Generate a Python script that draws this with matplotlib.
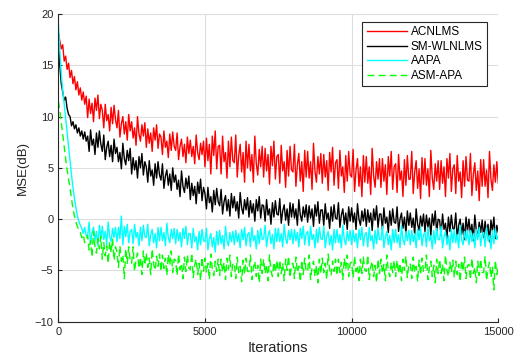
import numpy as np
import matplotlib
matplotlib.use('Agg')
import matplotlib.pyplot as plt

plt.rcParams['font.family'] = ['Liberation Sans', 'DejaVu Sans']

# iteration grid, one sample every 50 iterations
iters = np.arange(0, 15001, 50)

# MSE (dB), 10 samples (500 iterations) per row
acnlms = [
    18.2, 17.4, 16.6, 17.0, 15.4, 15.9, 14.6, 15.2, 13.8, 14.5,
    13.2, 13.9, 12.6, 13.4, 12.1, 12.8, 11.6, 12.4, 11.2, 12.0,
    9.9, 11.7, 10.3, 11.3, 9.5, 11.8, 10.6, 12.1, 9.8, 11.2,
    10.6, 8.9, 11.2, 9.6, 10.2, 8.6, 10.9, 9.3, 11.1, 9.7,
    8.9, 10.6, 8.0, 9.3, 10.0, 8.3, 9.5, 7.7, 10.2, 8.6,
    9.5, 7.9, 8.9, 7.2, 10.0, 8.3, 7.6, 9.2, 8.1, 9.4,
    7.0, 8.8, 7.4, 8.4, 6.6, 8.9, 7.7, 9.2, 6.9, 8.3,
    8.0, 6.3, 8.6, 7.0, 7.6, 6.0, 8.3, 6.7, 8.5, 7.1,
    6.7, 8.4, 5.8, 7.1, 7.8, 6.1, 7.3, 5.5, 8.0, 6.4,
    7.7, 6.1, 7.1, 5.4, 8.2, 6.5, 5.8, 7.4, 6.3, 7.6,
    5.1, 7.9, 5.7, 7.3, 4.4, 8.1, 6.2, 8.6, 4.9, 7.1,
    7.2, 4.4, 8.1, 5.6, 6.5, 4.0, 7.6, 5.1, 8.0, 5.7,
    5.5, 8.2, 4.1, 6.2, 7.3, 4.6, 6.5, 3.6, 7.6, 5.0,
    7.3, 4.7, 6.3, 3.6, 8.1, 5.4, 4.3, 6.8, 5.1, 7.1,
    4.1, 6.9, 4.7, 6.3, 3.4, 7.1, 5.2, 7.6, 3.9, 6.1,
    6.3, 3.5, 7.2, 4.7, 5.6, 3.1, 6.7, 4.2, 7.1, 4.8,
    4.6, 7.3, 3.2, 5.3, 6.4, 3.7, 5.6, 2.7, 6.7, 4.1,
    6.6, 4.0, 5.6, 2.9, 7.4, 4.7, 3.6, 6.1, 4.4, 6.4,
    3.5, 6.3, 4.1, 5.7, 2.8, 6.5, 4.6, 7.0, 3.3, 5.5,
    5.8, 3.0, 6.7, 4.2, 5.1, 2.6, 6.2, 3.7, 6.6, 4.3,
    4.1, 6.8, 2.7, 4.8, 5.9, 3.2, 5.1, 2.2, 6.2, 3.6,
    6.1, 3.5, 5.1, 2.4, 6.9, 4.2, 3.1, 5.6, 3.9, 5.9,
    3.1, 5.9, 3.7, 5.3, 2.4, 6.1, 4.2, 6.6, 2.9, 5.1,
    5.4, 2.6, 6.3, 3.8, 4.7, 2.2, 5.8, 3.3, 6.2, 3.9,
    3.9, 6.6, 2.5, 4.6, 5.7, 3.0, 4.9, 2.0, 6.0, 3.4,
    5.9, 3.3, 4.9, 2.2, 6.7, 4.0, 2.9, 5.4, 3.7, 5.7,
    2.9, 5.7, 3.5, 5.1, 2.2, 5.9, 4.0, 6.4, 2.7, 4.9,
    5.3, 2.5, 6.2, 3.7, 4.6, 2.1, 5.7, 3.2, 6.1, 3.8,
    3.7, 6.4, 2.3, 4.4, 5.5, 2.8, 4.7, 1.8, 5.8, 3.2,
    5.8, 3.2, 4.8, 2.1, 6.6, 3.9, 2.8, 5.3, 3.6, 5.6,
    3.5,
]

sm_wlnlms = [
    18.0, 15.0, 13.2, 12.4, 11.6, 11.9, 10.8, 10.2, 10.0, 9.1,
    9.5, 8.8, 9.2, 8.4, 8.9, 8.1, 8.6, 7.8, 8.5, 7.6,
    8.1, 6.6, 8.7, 7.2, 7.8, 6.3, 8.4, 7.0, 8.6, 7.3,
    6.6, 8.2, 5.8, 7.0, 7.6, 6.1, 7.2, 5.6, 7.8, 6.4,
    7.0, 5.6, 6.5, 4.9, 7.4, 5.9, 5.3, 6.7, 5.7, 6.9,
    4.4, 6.0, 4.8, 5.7, 4.0, 6.1, 5.0, 6.4, 4.3, 5.6,
    5.1, 3.6, 5.7, 4.2, 4.8, 3.3, 5.4, 4.0, 5.6, 4.3,
    3.8, 5.4, 3.0, 4.2, 4.8, 3.3, 4.4, 2.8, 5.0, 3.6,
    4.3, 2.9, 3.8, 2.2, 4.7, 3.2, 2.6, 4.0, 3.0, 4.2,
    1.9, 3.5, 2.3, 3.2, 1.5, 3.6, 2.5, 3.9, 1.8, 3.1,
    2.5, 1.0, 3.1, 1.6, 2.2, 0.7, 2.8, 1.4, 3.0, 1.7,
    1.3, 2.9, 0.5, 1.7, 2.3, 0.8, 1.9, 0.3, 2.5, 1.1,
    2.2, 0.8, 1.7, 0.1, 2.6, 1.1, 0.5, 1.9, 0.9, 2.1,
    0.2, 1.8, 0.6, 1.5, -0.2, 1.9, 0.8, 2.2, 0.1, 1.4,
    1.3, -0.2, 1.9, 0.4, 1.0, -0.5, 1.6, 0.2, 1.8, 0.5,
    0.4, 2.0, -0.4, 0.8, 1.4, -0.1, 1.0, -0.6, 1.6, 0.2,
    1.5, 0.1, 1.0, -0.6, 1.9, 0.4, -0.2, 1.2, 0.2, 1.4,
    -0.3, 1.3, 0.1, 1.0, -0.7, 1.4, 0.3, 1.7, -0.4, 0.9,
    0.9, -0.6, 1.5, 0.0, 0.6, -0.9, 1.2, -0.2, 1.4, 0.1,
    0.0, 1.6, -0.8, 0.4, 1.0, -0.5, 0.6, -1.0, 1.2, -0.2,
    1.1, -0.3, 0.6, -1.0, 1.5, 0.0, -0.6, 0.8, -0.2, 1.0,
    -0.7, 0.9, -0.3, 0.6, -1.1, 1.0, -0.1, 1.3, -0.8, 0.5,
    0.5, -1.0, 1.1, -0.4, 0.2, -1.3, 0.8, -0.6, 1.0, -0.3,
    -0.4, 1.2, -1.2, 0.0, 0.6, -0.9, 0.2, -1.4, 0.8, -0.6,
    0.6, -0.8, 0.1, -1.5, 1.0, -0.5, -1.1, 0.3, -0.7, 0.5,
    -1.2, 0.4, -0.8, 0.1, -1.6, 0.5, -0.6, 0.8, -1.3, 0.0,
    -0.1, -1.6, 0.5, -1.0, -0.4, -1.9, 0.2, -1.2, 0.4, -0.9,
    -1.0, 0.6, -1.8, -0.6, 0.0, -1.5, -0.4, -2.0, 0.2, -1.2,
    0.0, -1.4, -0.5, -2.1, 0.4, -1.1, -1.7, -0.3, -1.3, -0.1,
    -1.8, -0.2, -1.4, -0.5, -2.2, -0.1, -1.2, 0.2, -1.9, -0.6,
    -1.3,
]

aapa = [
    19.2, 16.5, 14.2, 12.6, 11.2, 9.8, 8.4, 7.0, 5.7, 4.3,
    3.1, 2.0, 1.1, 0.3, -0.2, -0.6, -0.9, -1.4, -0.8, -1.6,
    -1.6, -0.3, -2.4, -1.3, -0.8, -2.1, -1.2, -2.6, -0.6, -1.9,
    -0.7, -2.0, -1.2, -2.5, -0.3, -1.7, -2.2, -0.9, -1.8, -0.8,
    -2.2, -0.8, -1.9, 0.3, -2.5, -0.7, -1.7, -0.5, -2.3, -1.2,
    -1.0, -2.4, -0.5, -1.8, -1.3, -2.6, -0.8, -2.1, -0.6, -1.7,
    -1.8, -0.5, -2.6, -1.5, -1.0, -2.3, -1.4, -2.8, -0.8, -2.1,
    -0.8, -2.1, -1.3, -2.6, -0.4, -1.8, -2.3, -1.0, -1.9, -0.9,
    -2.4, -1.0, -2.1, -1.3, -2.7, -0.9, -1.9, -0.7, -2.5, -1.4,
    -1.4, -2.8, -0.9, -2.2, -1.7, -3.0, -1.2, -2.5, -1.0, -2.1,
    -2.2, -0.9, -3.0, -1.9, -1.4, -2.7, -1.8, -3.2, -1.2, -2.5,
    -1.1, -2.4, -1.6, -2.9, -0.7, -2.1, -2.6, -1.3, -2.2, -1.2,
    -2.5, -1.1, -2.2, -1.4, -2.8, -1.0, -2.0, -0.8, -2.6, -1.5,
    -1.3, -2.7, -0.8, -2.1, -1.6, -2.9, -1.1, -2.4, -0.9, -2.0,
    -1.9, -0.6, -2.7, -1.6, -1.1, -2.4, -1.5, -2.9, -0.9, -2.2,
    -0.9, -2.2, -1.4, -2.7, -0.5, -1.9, -2.4, -1.1, -2.0, -1.0,
    -2.4, -1.0, -2.1, -1.3, -2.7, -0.9, -1.9, -0.7, -2.5, -1.4,
    -1.2, -2.6, -0.7, -2.0, -1.5, -2.8, -1.0, -2.3, -0.8, -1.9,
    -2.0, -0.7, -2.8, -1.7, -1.2, -2.5, -1.6, -3.0, -1.0, -2.3,
    -1.0, -2.3, -1.5, -2.8, -0.6, -2.0, -2.5, -1.2, -2.1, -1.1,
    -2.5, -1.1, -2.2, -1.4, -2.8, -1.0, -2.0, -0.8, -2.6, -1.5,
    -1.3, -2.7, -0.8, -2.1, -1.6, -2.9, -1.1, -2.4, -0.9, -2.0,
    -2.0, -0.7, -2.8, -1.7, -1.2, -2.5, -1.6, -3.0, -1.0, -2.3,
    -1.0, -2.3, -1.5, -2.8, -0.6, -2.0, -2.5, -1.2, -2.1, -1.1,
    -2.5, -1.1, -2.2, -1.4, -2.8, -1.0, -2.0, -0.8, -2.6, -1.5,
    -1.3, -2.7, -0.8, -2.1, -1.6, -2.9, -1.1, -2.4, -0.9, -2.0,
    -2.0, -0.7, -2.8, -1.7, -1.2, -2.5, -1.6, -3.0, -1.0, -2.3,
    -1.0, -2.3, -1.5, -2.8, -0.6, -2.0, -2.5, -1.2, -2.1, -1.1,
    -2.5, -1.1, -2.2, -1.4, -2.8, -1.0, -2.0, -0.8, -2.6, -1.5,
    -1.3, -2.7, -0.8, -2.1, -1.6, -2.9, -1.1, -2.4, -0.9, -2.0,
    -1.6,
]

asm_apa = [
    11.5, 10.6, 9.4, 8.3, 7.1, 5.9, 4.8, 3.9, 3.0, 2.0,
    1.0, 0.3, -0.3, -0.7, -1.1, -1.3, -1.8, -1.5, -2.3, -2.0,
    -1.6, -3.0, -2.1, -3.7, -1.2, -2.7, -3.3, -1.9, -2.9, -1.7,
    -3.9, -2.3, -3.6, -2.6, -4.3, -2.2, -3.3, -1.9, -4.0, -2.7,
    -3.2, -4.7, -2.6, -4.1, -3.5, -5.8, -2.9, -4.3, -2.7, -4.0,
    -4.3, -2.7, -5.1, -3.9, -3.3, -4.8, -3.7, -5.4, -3.1, -4.5,
    -3.3, -4.7, -3.8, -5.4, -2.9, -4.4, -5.0, -3.6, -4.6, -3.4,
    -5.1, -3.5, -4.8, -3.8, -5.5, -3.4, -4.5, -3.1, -5.2, -3.9,
    -4.0, -5.5, -3.4, -4.9, -4.3, -5.8, -3.7, -5.1, -3.5, -4.8,
    -4.9, -3.3, -5.7, -4.5, -3.9, -5.4, -4.3, -6.0, -3.7, -5.1,
    -3.8, -5.2, -4.3, -5.9, -3.4, -4.9, -5.5, -4.1, -5.1, -3.9,
    -5.5, -3.9, -5.2, -4.2, -5.9, -3.8, -4.9, -3.5, -5.6, -4.3,
    -4.3, -5.8, -3.7, -5.2, -4.6, -6.1, -4.0, -5.4, -3.8, -5.1,
    -5.1, -3.5, -5.9, -4.7, -4.1, -5.6, -4.5, -6.2, -3.9, -5.3,
    -3.9, -5.3, -4.4, -6.0, -3.5, -5.0, -5.6, -4.2, -5.2, -4.0,
    -5.6, -4.0, -5.3, -4.3, -6.0, -3.9, -5.0, -3.6, -5.7, -4.4,
    -4.3, -5.8, -3.7, -5.2, -4.6, -6.1, -4.0, -5.4, -3.8, -5.1,
    -5.1, -3.5, -5.9, -4.7, -4.1, -5.6, -4.5, -6.2, -3.9, -5.3,
    -3.8, -5.2, -4.3, -5.9, -3.4, -4.9, -5.5, -4.1, -5.1, -3.9,
    -5.5, -3.9, -5.2, -4.2, -5.9, -3.8, -4.9, -3.5, -5.6, -4.3,
    -4.2, -5.7, -3.6, -5.1, -4.5, -6.0, -3.9, -5.3, -3.7, -5.0,
    -5.1, -3.5, -5.9, -4.7, -4.1, -5.6, -4.5, -6.2, -3.9, -5.3,
    -3.9, -5.3, -4.4, -6.0, -3.5, -5.0, -5.6, -4.2, -5.2, -4.0,
    -5.6, -4.0, -5.3, -4.3, -6.0, -3.9, -5.0, -3.6, -5.7, -4.4,
    -4.3, -5.8, -3.7, -5.2, -4.6, -6.1, -4.0, -5.4, -3.8, -5.1,
    -5.1, -3.5, -5.9, -4.7, -4.1, -5.6, -4.5, -6.2, -3.9, -5.3,
    -3.9, -5.3, -4.4, -6.0, -3.5, -5.0, -5.6, -4.2, -5.2, -4.0,
    -5.7, -4.1, -5.4, -4.4, -6.1, -4.0, -5.1, -3.7, -5.8, -4.5,
    -4.4, -5.9, -3.8, -5.3, -4.7, -6.2, -4.1, -5.5, -3.9, -5.2,
    -5.2, -3.6, -6.0, -4.8, -4.2, -5.7, -4.6, -6.9, -4.0, -5.4,
    -4.6,
]

fig = plt.figure(figsize=(5.17, 3.58), dpi=100)
ax = fig.add_axes([0.1128, 0.1014, 0.851, 0.8595])

ax.plot(iters, acnlms, color='#ff0000', lw=1.0, label='ACNLMS')
ax.plot(iters, sm_wlnlms, color='#000000', lw=1.0, label='SM-WLNLMS')
ax.plot(iters, aapa, color='#00ffff', lw=1.0, label='AAPA')
ax.plot(iters, asm_apa, color='#00ff00', lw=1.0, dashes=(5, 3), label='ASM-APA')

ax.set_xlim(0, 15000)
ax.set_ylim(-10, 20)
ax.set_xticks([0, 5000, 10000, 15000])
ax.set_yticks([-10, -5, 0, 5, 10, 15, 20])
ax.grid(True, color='#dedede', lw=0.8)
ax.set_axisbelow(True)
for s in ['top', 'right']:
    ax.spines[s].set_visible(False)
for s in ['left', 'bottom']:
    ax.spines[s].set_color('#262626')
    ax.spines[s].set_linewidth(0.8)
ax.tick_params(direction='in', length=3, width=0.8, labelsize=8, colors='#262626')

ax.set_xlabel('Iterations', fontsize=10.5, color='#262626', labelpad=3)
ax.set_ylabel('MSE(dB)', fontsize=9.5, color='#262626', labelpad=4)

leg = ax.legend(loc='upper right', bbox_to_anchor=(0.974, 0.974), borderaxespad=0,
                fontsize=8.5, fancybox=False, framealpha=1, edgecolor='#262626',
                handlelength=3.4, handletextpad=0.35, labelspacing=0.22, borderpad=0.35)
leg.get_frame().set_linewidth(0.8)

fig.savefig('out.png', dpi=100)
